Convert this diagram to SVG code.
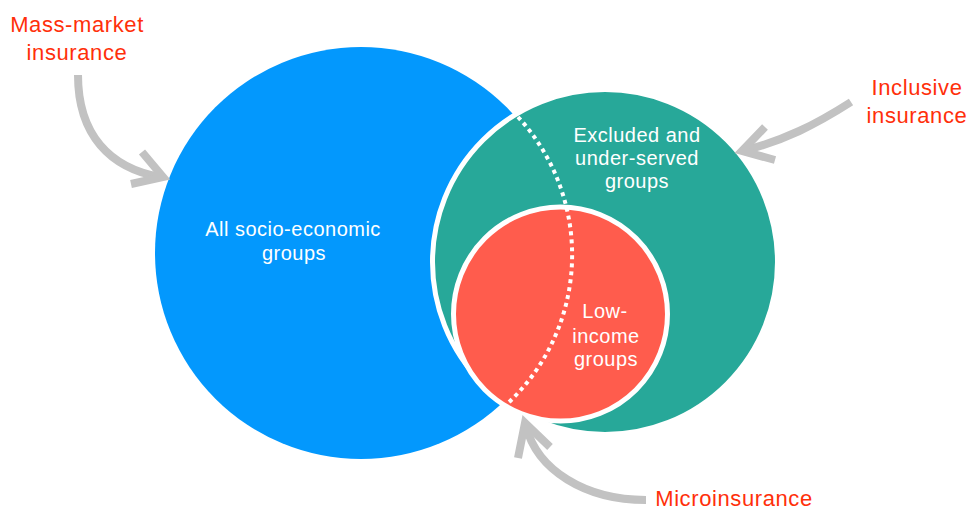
<svg xmlns="http://www.w3.org/2000/svg" width="968" height="511" viewBox="0 0 968 511">
<style>
.lbl{font-family:"Liberation Sans",Arial,sans-serif;font-size:22px;fill:#ff2f0a;text-anchor:middle;letter-spacing:0.6px}
.in{font-family:"Liberation Sans",Arial,sans-serif;font-size:20px;fill:#ffffff;text-anchor:middle;letter-spacing:0.5px}
.arr{fill:none;stroke:#c2c2c2;stroke-width:8}
</style>
<rect width="968" height="511" fill="#ffffff"/>
<g id="all-groups">
<circle cx="361" cy="253" r="206" fill="#0398fd"/>
<text class="in" x="293" y="236">All socio-economic</text>
<text class="in" x="294" y="260">groups</text>
</g>
<g id="excluded-groups">
<circle cx="605" cy="262" r="172.5" fill="#27a899" stroke="#ffffff" stroke-width="5"/>
<text class="in" x="637" y="142">Excluded and</text>
<text class="in" x="637" y="165">under-served</text>
<text class="in" x="637" y="188">groups</text>
</g>
<g id="low-income">
<circle cx="560.5" cy="314" r="107" fill="#ff5c4d" stroke="#ffffff" stroke-width="5"/>
<text class="in" x="605" y="318">Low-</text>
<text class="in" x="606" y="343">income</text>
<text class="in" x="606" y="366">groups</text>
</g>
<g id="connectors">
<path d="M518,117 A203,203 0 0 1 507,404" fill="none" stroke="#ffffff" stroke-width="4" stroke-dasharray="4 4"/>
<path class="arr" d="M78,75 C78,135 110,168 160,177"/>
<path class="arr" d="M142,152 L163,177 L131,184"/>
<path class="arr" d="M851,102 C815,125 785,140 743,151"/>
<path class="arr" d="M765,127 L742,151 L775,160"/>
<path class="arr" d="M646,500 C585,500 537,470 526,426"/>
<path class="arr" d="M518,458 L525,423 L550,447"/>
</g>
<g id="mass-market-label">
<text class="lbl" x="77" y="32">Mass-market</text>
<text class="lbl" x="77" y="60">insurance</text>
</g>
<g id="inclusive-label">
<text class="lbl" x="917" y="95">Inclusive</text>
<text class="lbl" x="917" y="123">insurance</text>
</g>
<g id="micro-label">
<text class="lbl" x="734" y="506">Microinsurance</text>
</g>
</svg>
